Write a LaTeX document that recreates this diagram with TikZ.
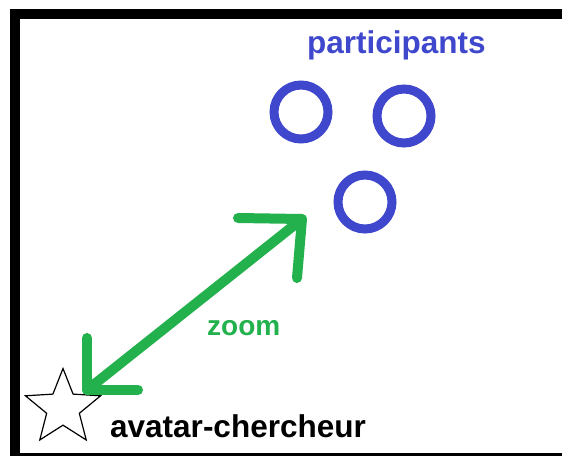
\documentclass[tikz,border=0pt]{standalone}
\usepackage{fontspec}
\setmainfont{Liberation Sans}
\usetikzlibrary{shapes.geometric}

\definecolor{paintblue}{RGB}{63,72,204}
\definecolor{paintgreen}{RGB}{34,177,76}

\begin{document}
\begin{tikzpicture}[x=1pt,y=-1pt]
    \tikzset{participant/.style={
        circle, draw=paintblue, line width=9pt, minimum size=54pt, inner sep=0pt
      },
      nametext/.style={font=\fontsize{31.5}{32}\selectfont\bfseries, inner sep=0pt, anchor=base west},
      zoomline/.style={line width=10pt, paintgreen, line cap=round, line join=round}
    }

    \useasboundingbox (0,0) rectangle (562,455);
    \clip (0,0) rectangle (562,455);

    % frame (right side falls outside)
    \draw[line width=10pt] (580,457.5) -| (14.5,14) -- (580,14);

    \node[participant] (P1) at (301,112) {};
    \node[participant] (P2) at (404,116) {};
    \node[participant] (P3) at (365,202) {};
    \node[nametext, paintblue] (partlbl) at (307,53) {participants};

    \node[star, star points=5, star point ratio=2.3, minimum size=79pt, inner sep=0pt,
      draw, line width=1.2pt] (avatar) at (63,408) {};
    \node[nametext] (avatarlbl) at (110,437) {avatar-chercheur};

    \coordinate (near) at (87,390);
    \coordinate (far) at (302,219);
    \draw[zoomline] (near) -- (far);
    % hand-drawn heads
    \draw[zoomline] (near) ++(0,-52) -- (near) -- ++(51,0);
    \draw[zoomline] (far) ++(-64,-1) -- (far) -- ++(-5,59);
    \node[nametext, font=\fontsize{28}{28}\selectfont\bfseries, paintgreen] (zoomlbl) at (207,335) {zoom};
\end{tikzpicture}
\end{document}
